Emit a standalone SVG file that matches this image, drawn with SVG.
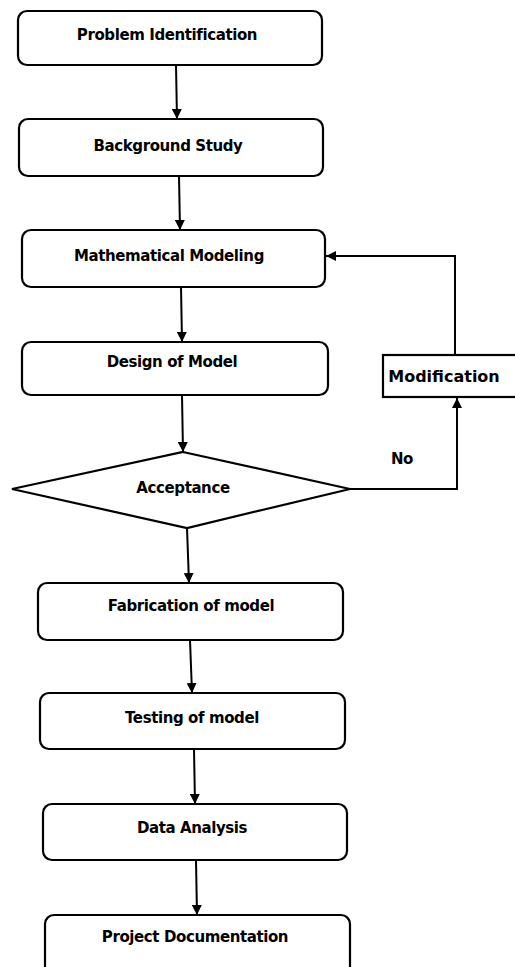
<svg xmlns="http://www.w3.org/2000/svg" width="515" height="967" viewBox="0 0 515 967">
<style>
.box{fill:#fff;stroke:#000;stroke-width:2.2}
.t{font-family:"DejaVu Sans","Open Sans",sans-serif;font-weight:700;font-size:15px;fill:#000;text-anchor:middle;dominant-baseline:central;letter-spacing:-0.4px}
.c{fill:none;stroke:#000;stroke-width:2}
</style>
<defs>
<marker id="ah" viewBox="0 0 10 10" refX="10" refY="5" markerWidth="5" markerHeight="5" orient="auto" markerUnits="strokeWidth">
<path d="M0,0 L10,5 L0,10 z" fill="#000"/>
</marker>
</defs>
<rect width="515" height="967" fill="#fff"/>
<g id="connectors">
<path class="c" d="M176,65 L177,119" marker-end="url(#ah)"/>
<path class="c" d="M179,176 L180,230" marker-end="url(#ah)"/>
<path class="c" d="M181,287 L182,342" marker-end="url(#ah)"/>
<path class="c" d="M182,395 L183,452" marker-end="url(#ah)"/>
<path class="c" d="M187,528 L189,583" marker-end="url(#ah)"/>
<path class="c" d="M190,640 L192,693" marker-end="url(#ah)"/>
<path class="c" d="M194,749 L195,804" marker-end="url(#ah)"/>
<path class="c" d="M196,860 L197,915" marker-end="url(#ah)"/>
<path class="c" d="M350,489 L457,489 L457,398" marker-end="url(#ah)"/>
<path class="c" d="M455,355 L455,256 L326,256" marker-end="url(#ah)"/>
</g>
<g id="n1"><rect class="box" x="18" y="11" width="304" height="54" rx="9"/><text class="t" x="167" y="35">Problem Identification</text></g>
<g id="n2"><rect class="box" x="19" y="119" width="304" height="57" rx="9"/><text class="t" x="168" y="146">Background Study</text></g>
<g id="n3"><rect class="box" x="22" y="230" width="303" height="57" rx="9"/><text class="t" x="169" y="256">Mathematical Modeling</text></g>
<g id="n4"><rect class="box" x="22" y="342" width="306" height="53" rx="9"/><text class="t" x="172" y="362">Design of Model</text></g>
<g id="n5"><rect class="box" x="383" y="355" width="150" height="42"/><text class="t" x="444" y="376" style="font-size:16px;letter-spacing:0">Modification</text></g>
<g id="n6"><polygon class="box" points="183,452 350,489 187,528 12,489"/><text class="t" x="183" y="488">Acceptance</text></g>
<g id="lbl"><text class="t" x="402" y="459">No</text></g>
<g id="n7"><rect class="box" x="38" y="583" width="305" height="57" rx="9"/><text class="t" x="191" y="606">Fabrication of model</text></g>
<g id="n8"><rect class="box" x="40" y="693" width="305" height="56" rx="9"/><text class="t" x="192" y="718">Testing of model</text></g>
<g id="n9"><rect class="box" x="43" y="804" width="304" height="56" rx="9"/><text class="t" x="192" y="828">Data Analysis</text></g>
<g id="n10"><rect class="box" x="45" y="915" width="305" height="70" rx="9"/><text class="t" x="195" y="937">Project Documentation</text></g>
</svg>
